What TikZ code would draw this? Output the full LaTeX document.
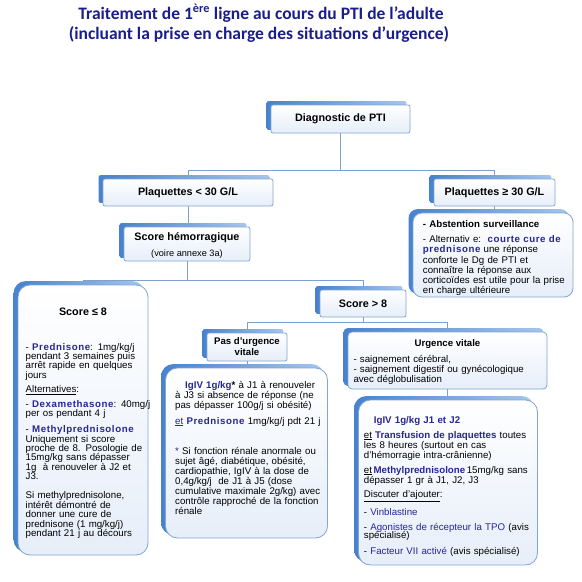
\documentclass[tikz,border=0pt]{standalone}
\usepackage{fontspec}
\setmainfont{Liberation Sans}
\newfontfamily\titlefont{Carlito}
\usetikzlibrary{calc}
\lineskiplimit=-50pt
\definecolor{linec}{RGB}{125,160,205}
\definecolor{bordc}{RGB}{130,165,212}
\definecolor{shadA}{RGB}{72,130,205}
\definecolor{shadB}{RGB}{165,198,236}
\definecolor{fillB}{RGB}{230,238,249}
\definecolor{titleblue}{RGB}{26,30,140}
\definecolor{txtblue}{RGB}{38,38,150}
\newcommand\bb[1]{{\bfseries\color{txtblue}#1}}
\newcommand\bl[1]{{\bfseries\addfontfeatures{LetterSpace=6}\color{txtblue}#1}}
\newcommand\shadowof[2]{\shade[left color=shadA,right color=shadB,rounded corners=#2] ([shift={(-4pt,3.5pt)}]#1.south west) rectangle ([shift={(-4pt,3.5pt)}]#1.north east);}
\pgfdeclarelayer{bg}
\pgfdeclarelayer{shad}
\pgfsetlayers{bg,shad,main}
\begin{document}
\begin{tikzpicture}[x=1pt,y=1pt,
  conn/.style={draw=linec,line width=0.9pt},
  boxbase/.style={draw=bordc,line width=0.8pt,top color=white,bottom color=fillB,inner sep=0pt},
  smallbox/.style={boxbase,rounded corners=2pt},
  bigbox/.style={boxbase,rounded corners=12pt},
  lab/.style={font=\bfseries\fontsize{10.8}{12}\selectfont,align=center},
  body/.style={anchor=base west,inner sep=0pt,text width=200pt,align=left,font=\fontsize{9.7}{#1}\selectfont},
  ttl/.style={anchor=base,inner sep=0pt,text=titleblue,font=\titlefont\bfseries\fontsize{17.5}{20}\selectfont}]
\useasboundingbox (0,0) rectangle (582,-582);

% title
\node[ttl] (title1) at (261,-19) {Traitement de 1\textsuperscript{ère} ligne au cours du PTI de l’adulte};
\node[ttl] (title2) at (259,-39.5) {(incluant la prise en charge des situations d’urgence)};

% boxes
\node[smallbox,lab,minimum width=139pt,minimum height=28pt] (diag) at (340.5,-119) {Diagnostic de PTI};
\node[smallbox,lab,minimum width=170pt,minimum height=27pt] (p30) at (188,-192.5) {Plaquettes < 30 G/L};
\node[smallbox,lab,minimum width=121pt,minimum height=27pt] (pge30) at (494.5,-192.5) {Plaquettes ≥ 30 G/L};
\node[smallbox,minimum width=126pt,minimum height=34pt] (scoreh) at (187,-244) {};
\node[lab,anchor=base,inner sep=0pt] (scorehT) at (187,-240.5) {Score hémorragique};
\node[anchor=base,inner sep=0pt,font=\fontsize{9.2}{11}\selectfont] (scorehS) at (187,-256) {(voire annexe 3a)};
\node[bigbox,rounded corners=9pt,minimum width=160pt,minimum height=84pt] (abst) at (493,-255) {};
\node[bigbox,minimum width=130pt,minimum height=270pt] (left) at (83,-420) {};
\node[smallbox,lab,minimum width=86pt,minimum height=27pt] (s8) at (363,-303.5) {Score > 8};
\node[smallbox,minimum width=80pt,minimum height=28pt,align=center,font=\bfseries\fontsize{9.6}{11}\selectfont] (pasurg) at (247,-347) {Pas d’urgence\\vitale};
\node[smallbox,rounded corners=4pt,minimum width=199pt,minimum height=57pt] (urg) at (447.5,-360.5) {};
\node[bigbox,minimum width=162pt,minimum height=170pt] (mid) at (246.5,-453) {};
\node[bigbox,minimum width=179pt,minimum height=165pt] (right) at (448,-482.5) {};

% shadows
\begin{pgfonlayer}{shad}
\shadowof{diag}{2pt}
\shadowof{p30}{2pt}
\shadowof{pge30}{2pt}
\shadowof{scoreh}{2pt}
\shadowof{abst}{9pt}
\shadowof{left}{12pt}
\shadowof{s8}{2pt}
\shadowof{pasurg}{2pt}
\shadowof{urg}{4pt}
\shadowof{mid}{12pt}
\shadowof{right}{12pt}
\end{pgfonlayer}

% background and connectors
\begin{pgfonlayer}{bg}
\fill[white] (0,0) rectangle (582,-582);
\draw[conn] (diag.south) -- ++(0,-37) -| (p30.north);
\draw[conn] (diag.south) -- ++(0,-37) -| (pge30.north);
\draw[conn] (p30.south) -- (p30.south |- scoreh.north);
\draw[conn] (pge30.south) -- (pge30.south |- abst.north);
\draw[conn] (scoreh.south) -- ++(0,-19) -| (left.north);
\draw[conn] (scoreh.south) -- ++(0,-19) -| (s8.north);
\draw[conn] (s8.south) -- ++(0,-5.5) -| (pasurg.north);
\draw[conn] (s8.south) -- ++(0,-5.5) -| (urg.north);
\draw[conn] (pasurg.south) -- (pasurg.south |- mid.north);
\draw[conn] (urg.south) -- (urg.south |- right.north);
\end{pgfonlayer}

% texts
\node[body=10.1] (abstT) at (422.7,-227.5) {\textbf{- Abstention surveillance}\\[5.2pt]
- Alternativ e:\ \ \bl{courte cure de}\\
\bl{prednisone} une réponse\\
conforte le Dg de PTI et\\
connaître la réponse aux\\
corticoïdes est utile pour la prise\\
en charge ultérieure};

\node[lab,anchor=base,inner sep=0pt] (leftT) at (83,-315.5) {Score ≤ 8};
\node[body=9.4] (leftB) at (25.5,-350) {- \bl{Prednisone}: 1mg/kg/j\\
pendant 3 semaines puis\\
arrêt rapide en quelques\\
jours\\[4.7pt]
\underline{Alternatives}:\\[5.6pt]
- \bl{Dexamethasone}: 40mg/j\\
per os pendant 4 j\\[6.6pt]
- \bl{Methylprednisolone}\\
Uniquement si score\\
proche de 8. Posologie de\\
15mg/kg sans dépasser\\
1g\ \ à renouveler à J2 et\\
J3.\\[9.8pt]
Si methylprednisolone,\\
intérêt démontré de\\
donner une cure de\\
prednisone (1 mg/kg/j)\\
pendant 21 j au décours};

\node[anchor=base,inner sep=0pt,font=\bfseries\fontsize{9.6}{11}\selectfont] (urgT) at (447.5,-346.5) {Urgence vitale};
\node[body=10] (urgB) at (353.3,-362.3) {- saignement cérébral,\\
- saignement digestif ou gynécologique\\
avec déglobulisation};

\node[body=10] (midB) at (175,-388.7) {\hspace*{10pt}\bb{IgIV 1g/kg}\textbf{*} à J1 à renouveler\\
à J3 si absence de réponse (ne\\
pas dépasser 100g/j si obésité)\\[5.3pt]
{\color{txtblue}\underline{et}} \bl{Prednisone} 1mg/kg/j pdt 21 j\\[20pt]
{\color{txtblue}*} Si fonction rénale anormale ou\\
sujet âgé, diabétique, obésité,\\
cardiopathie, IgIV à la dose de\\
0,4g/kg/j\ \ de J1 à J5 (dose\\
cumulative maximale 2g/kg) avec\\
contrôle rapproché de la fonction\\
rénale};

\node[body=10] (rightB) at (363.7,-423) {\hspace*{10pt}\bb{IgIV 1g/kg J1 et J2}\\[5pt]
\underline{et} \bb{Transfusion de plaquettes} toutes\\
les 8 heures (surtout en cas\\
d’hémorragie intra-crânienne)\\[5pt]
\underline{et}\,\bb{Methylprednisolone}\,15mg/kg sans\\
dépasser 1 gr à J1, J2, J3\\[4.3pt]
\underline{Discuter d’ajouter}:\\[5.7pt]
- {\color{txtblue}Vinblastine}\\[5pt]
- {\color{txtblue}Agonistes de récepteur la TPO} (avis\\[-1.7pt]
spécialisé)\\[5.7pt]
- {\color{txtblue}Facteur VII activé} (avis spécialisé)};
\end{tikzpicture}
\end{document}
